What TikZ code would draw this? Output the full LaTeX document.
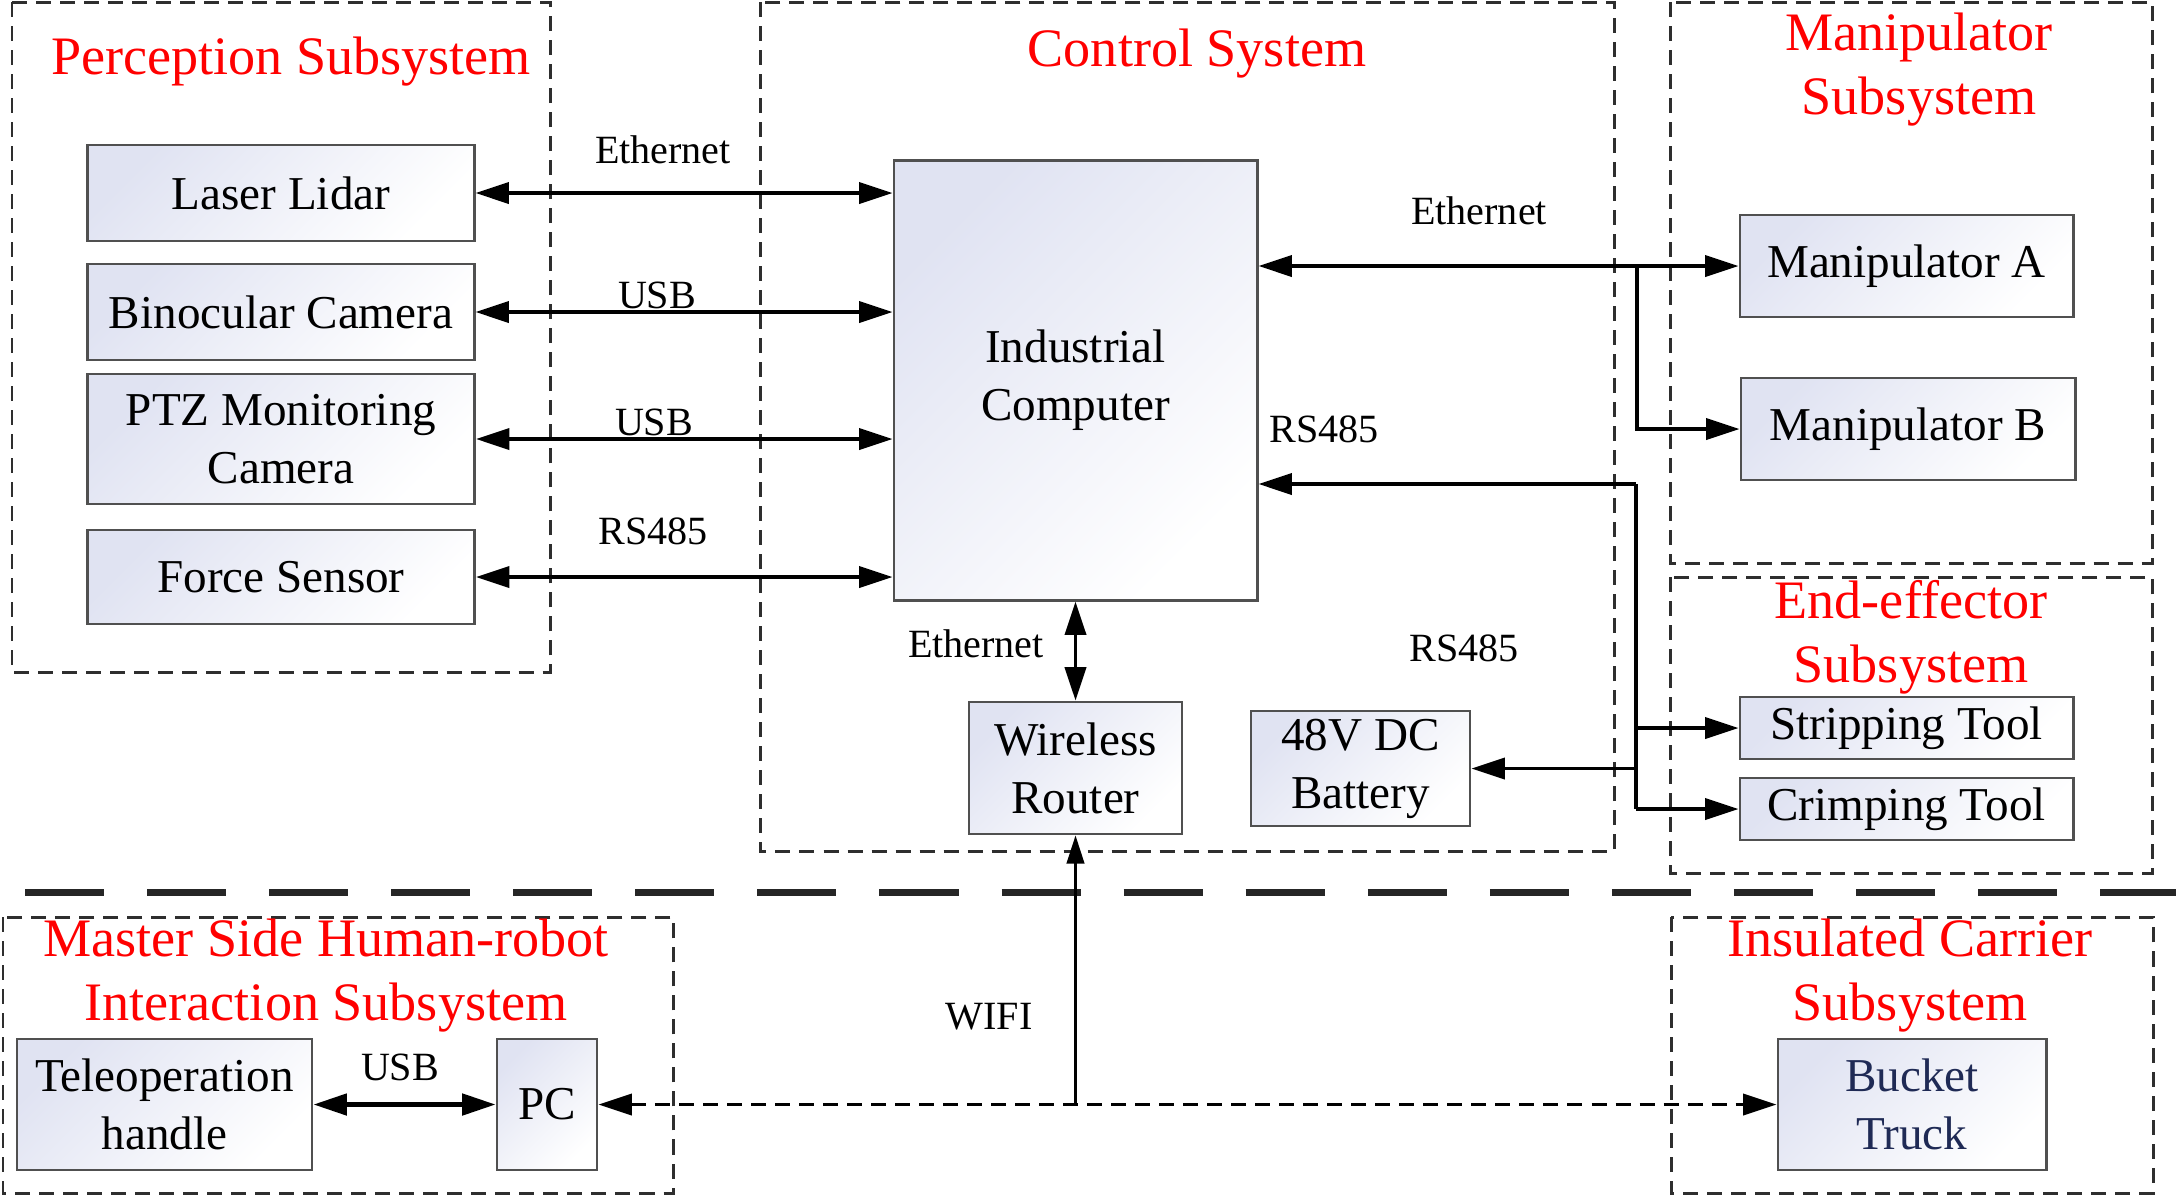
\documentclass[tikz,border=0pt]{standalone}
\usepackage{fontspec}
\setmainfont{Liberation Serif}
\usetikzlibrary{arrows.meta}
\definecolor{boxtop}{HTML}{E0E3F2}
\definecolor{boxline}{HTML}{505050}
\definecolor{grpline}{HTML}{2E2E2E}
\definecolor{navy}{HTML}{1F2A55}
\newcommand\tfont{\fontsize{15.4}{18.2}\selectfont}
\newcommand\bfont{\fontsize{13.4}{16.5}\selectfont}
\newcommand\lfont{\fontsize{11.4}{13}\selectfont}
\tikzset{
  blk/.style={draw=boxline, line width=0.8pt, left color=boxtop, right color=white, shading angle=45,
    inner sep=0pt, align=center, font=\bfont},
  grp/.style={draw=grpline, line width=0.85pt, dash pattern=on 0.15cm off 0.09cm},
  ttl/.style={text=red, font=\tfont, align=center, inner sep=0pt},
  lbl/.style={font=\lfont, inner sep=0pt},
  conn/.style={line width=1pt, -{Triangle[length=9.5pt,width=6pt]}},
  biconn/.style={line width=1pt, {Triangle[length=9.5pt,width=6pt]}-{Triangle[length=9.5pt,width=6pt]}},
  plain/.style={line width=1pt},
}
\begin{document}
\begin{tikzpicture}[x=0.01cm, y=-0.01cm]
\useasboundingbox (0,0) rectangle (2176,1196);
\fill[white] (0,0) rectangle (2176,1196);

% group frames
\draw[grp] (12,2) rectangle (550,672);
\draw[grp] (760,2) rectangle (1614,851);
\draw[grp] (1670,2) rectangle (2152,563);
\draw[grp] (1670,577) rectangle (2152,873);
\draw[grp] (3,917) rectangle (673,1193);
\draw[grp] (1671,917) rectangle (2153,1193);

% titles
\node[ttl] (tPer) at (291,62) {Perception Subsystem};
\node[ttl] (tCtl) at (1197,54) {Control System};
\node[ttl] (tMan) at (1919,70) {Manipulator\\Subsystem};
\node[ttl] (tEnd) at (1911,637) {End-effector\\Subsystem};
\node[ttl] (tMas) at (326,976) {Master Side Human-robot\\Interaction Subsystem};
\node[ttl] (tIns) at (1910,976) {Insulated Carrier\\Subsystem};

% blocks
\node[blk, minimum width=3.86cm, minimum height=0.96cm] (laser) at (281,193) {Laser Lidar};
\node[blk, minimum width=3.86cm, minimum height=0.96cm] (bino) at (281,312) {Binocular Camera};
\node[blk, minimum width=3.87cm, minimum height=1.30cm] (ptz) at (281,439) {PTZ Monitoring\\Camera};
\node[blk, minimum width=3.87cm, minimum height=0.94cm] (force) at (281,577) {Force Sensor};
\node[blk, minimum width=3.63cm, minimum height=4.39cm] (ic) at (1075.5,380.5) {Industrial\\Computer};
\node[blk, minimum width=2.13cm, minimum height=1.32cm] (router) at (1075.5,768) {Wireless\\Router};
\node[blk, minimum width=2.19cm, minimum height=1.15cm] (battery) at (1360.5,768.5) {48V DC\\Battery};
\node[blk, minimum width=3.33cm, minimum height=1.02cm] (manA) at (1906.5,266) {Manipulator A};
\node[blk, minimum width=3.34cm, minimum height=1.02cm] (manB) at (1908,429) {Manipulator B};
\node[blk, minimum width=3.33cm, minimum height=0.62cm] (strip) at (1906.5,728) {Stripping Tool};
\node[blk, minimum width=3.33cm, minimum height=0.62cm] (crimp) at (1906.5,809) {Crimping Tool};
\node[blk, minimum width=2.95cm, minimum height=1.31cm] (tele) at (164.5,1104.5) {Teleoperation\\handle};
\node[blk, minimum width=1.00cm, minimum height=1.31cm] (pc) at (547,1104.5) {PC};
\node[blk, minimum width=2.68cm, minimum height=1.31cm, text=navy] (truck) at (1912,1104.5) {Bucket\\Truck};

% perception links
\draw[biconn] (laser.east) -- (laser.east -| ic.west);
\draw[biconn] (bino.east) -- (bino.east -| ic.west);
\draw[biconn] (ptz.east) -- (ptz.east -| ic.west);
\draw[biconn] (force.east) -- (force.east -| ic.west);
\node[lbl] (l1) at (663,150) {Ethernet};
\node[lbl] (l2) at (657,295) {USB};
\node[lbl] (l3) at (654,422) {USB};
\node[lbl] (l4) at (653,531) {RS485};

% manipulator links
\coordinate (brE) at (1637,266);
\draw[biconn] (manA.west -| ic.east) -- (manA.west);
\draw[conn] (brE) |- (manB.west);
\node[lbl] (l5) at (1479,211) {Ethernet};

% RS485 bus
\coordinate (rsTop) at (1636,484);
\coordinate (rsBot) at (1636,809);
\draw[conn] (rsTop) -- (rsTop -| ic.east);
\draw[plain] (rsTop) -- (rsBot);
\draw[conn] (rsBot) -- (crimp.west);
\draw[conn] (rsTop |- strip.west) -- (strip.west);
\draw[conn] (rsTop |- battery.east) -- (battery.east);
\node[lbl] (l6) at (1324,429) {RS485};
\node[lbl] (l7) at (1464,648) {RS485};

% router link
\draw[biconn] (ic.south) -- (router.north);
\node[lbl] (l8) at (976,644) {Ethernet};

% separator
\coordinate (sepL) at (25,892);
\coordinate (sepR) at (2176,892);
\draw[line width=2pt, black!85, dash pattern=on 0.79cm off 0.43cm] (sepL) -- (sepR);

% bottom links
\draw[line width=1.3pt, {Triangle[length=9.5pt,width=6pt]}-{Triangle[length=9.5pt,width=6pt]}] (tele.east) -- (pc.west);
\node[lbl] (l9) at (400,1067) {USB};
\draw[line width=1pt, dash pattern=on 0.15cm off 0.09cm, {Triangle[length=9.5pt,width=6pt]}-{Triangle[length=9.5pt,width=6pt]}] (pc.east) -- (truck.west);
\coordinate (wj) at (router.south |- pc.east);
\draw[line width=0.7pt, -{Triangle[length=8pt,width=5pt]}] (wj) -- (router.south);
\node[lbl] (l10) at (989,1017) {WIFI};
\end{tikzpicture}
\end{document}
